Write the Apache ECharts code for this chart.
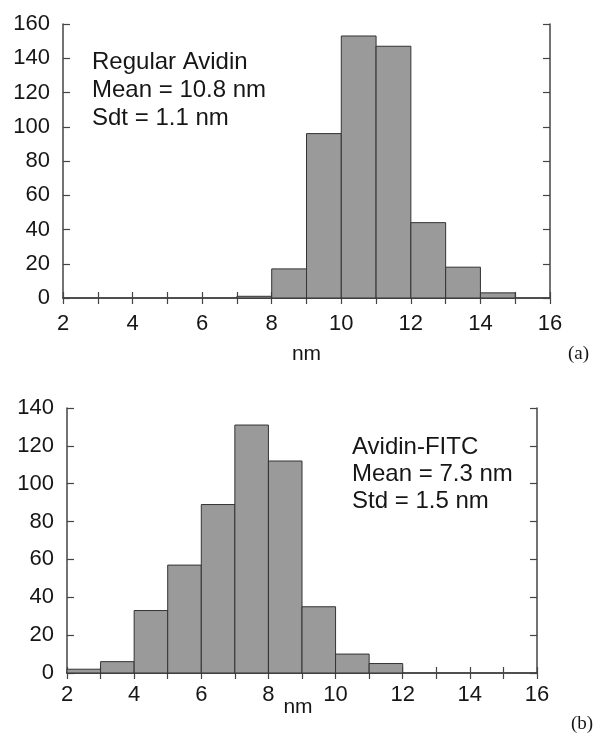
<!DOCTYPE html>
<html>
<head>
<meta charset="utf-8">
<script src="https://cdn.jsdelivr.net/npm/echarts@6/dist/echarts.min.js"></script>
<style>
  html, body { margin: 0; padding: 0; background: #fff; }
  #chart { width: 597px; height: 734px; }
</style>
</head>
<body>
<div id="chart"></div>
<script>
// histogram (a): regular avidin, 1 nm bins
const binStartsA = [7, 8, 9, 10, 11, 12, 13, 14];
const countsA = [1, 17, 96, 153, 147, 44, 18, 3];
// histogram (b): avidin-FITC
const binStartsB = [2, 3, 4, 5, 6, 7, 8, 9, 10, 11];
const countsB = [2, 6, 33, 57, 89, 131, 112, 35, 10, 5];
const binWidth = 1;

const xTicks = [2, 4, 6, 8, 10, 12, 14, 16];
const yMaxA = 160;
const yMaxB = 140;

const textA = ['Regular Avidin', 'Mean = 10.8 nm', 'Sdt = 1.1 nm'];
const textB = ['Avidin-FITC', 'Mean = 7.3 nm', 'Std = 1.5 nm'];

const font = 'Liberation Sans, Arial, sans-serif';
const lineColor = '#444';
const textColor = '#161616';

function toData(starts, counts) {
  return starts.map((s, i) => [s, s + binWidth, counts[i]]);
}

function renderBin(params, api) {
  const topLeft = api.coord([api.value(0), api.value(2)]);
  const bottomRight = api.coord([api.value(1), 0]);
  return {
    type: 'rect',
    shape: {
      x: topLeft[0],
      y: topLeft[1],
      width: bottomRight[0] - topLeft[0],
      height: bottomRight[1] - topLeft[1],
    },
    style: { fill: '#9a9a9a', stroke: '#333', lineWidth: 1 },
  };
}

function xAxes(gridIndex, nameGap, labelMargin, nameShift) {
  const common = {
    type: 'value',
    gridIndex,
    min: xTicks[0],
    max: xTicks[xTicks.length - 1],
    interval: 2,
    axisLine: { show: true, lineStyle: { color: lineColor, width: 1.5 } },
    axisTick: { show: true, inside: true, length: 6, lineStyle: { color: lineColor, width: 1.2 } },
    minorTick: { show: true, splitNumber: 2, length: 6, lineStyle: { color: lineColor, width: 1.2 } },
    splitLine: { show: false },
  };
  return [
    {
      ...common,
      position: 'bottom',
      name: 'nm',
      nameLocation: 'middle',
      nameGap,
      nameMoveOverlap: false,
      nameTextStyle: {
        fontFamily: font, fontSize: 21, color: textColor,
        padding: [0, nameShift, 0, 0],
      },
      axisLabel: { fontFamily: font, fontSize: 22, color: textColor, margin: labelMargin },
    },
    {
      ...common,
      position: 'top',
      axisLabel: { show: false },
    },
  ];
}

function yAxes(gridIndex, max) {
  const common = {
    type: 'value',
    gridIndex,
    min: 0,
    max,
    interval: 20,
    axisLine: { show: true, lineStyle: { color: lineColor, width: 1.5 } },
    axisTick: { show: true, inside: true, length: 7, lineStyle: { color: lineColor, width: 1.2 } },
    splitLine: { show: false },
  };
  return [
    {
      ...common,
      position: 'left',
      axisLabel: { fontFamily: font, fontSize: 22, color: textColor, margin: 13 },
    },
    {
      ...common,
      position: 'right',
      axisLabel: { show: false },
    },
  ];
}

const chart = echarts.init(document.getElementById('chart'), null, { renderer: 'canvas' });

const option = {
  backgroundColor: '#fff',
  animation: false,
  grid: [
    { left: 63, top: 24, width: 487, height: 274 },
    { left: 67, top: 408, width: 470, height: 265 },
  ],
  xAxis: [...xAxes(0, 46, 15, 0), ...xAxes(1, 24, 11, 8)],
  yAxis: [...yAxes(0, yMaxA), ...yAxes(1, yMaxB)],
  series: [
    {
      type: 'custom',
      xAxisIndex: 0,
      yAxisIndex: 0,
      renderItem: renderBin,
      encode: { x: [0, 1], y: 2 },
      data: toData(binStartsA, countsA),
    },
    {
      type: 'custom',
      xAxisIndex: 2,
      yAxisIndex: 2,
      renderItem: renderBin,
      encode: { x: [0, 1], y: 2 },
      data: toData(binStartsB, countsB),
    },
  ],
  graphic: [
    {
      type: 'text',
      left: 92,
      top: 48,
      style: { text: textA.join('\n'), font: '24px ' + font, lineHeight: 28, fill: textColor },
    },
    {
      type: 'text',
      left: 352,
      top: 434,
      style: { text: textB.join('\n'), font: '24px ' + font, lineHeight: 27, fill: textColor },
    },
    {
      type: 'text',
      left: 568,
      top: 345,
      style: { text: '(a)', font: '19px Liberation Serif, Times New Roman, serif', fill: textColor },
    },
    {
      type: 'text',
      left: 571,
      top: 715,
      style: { text: '(b)', font: '19px Liberation Serif, Times New Roman, serif', fill: textColor },
    },
  ],
};

chart.setOption(option);
</script>
</body>
</html>
